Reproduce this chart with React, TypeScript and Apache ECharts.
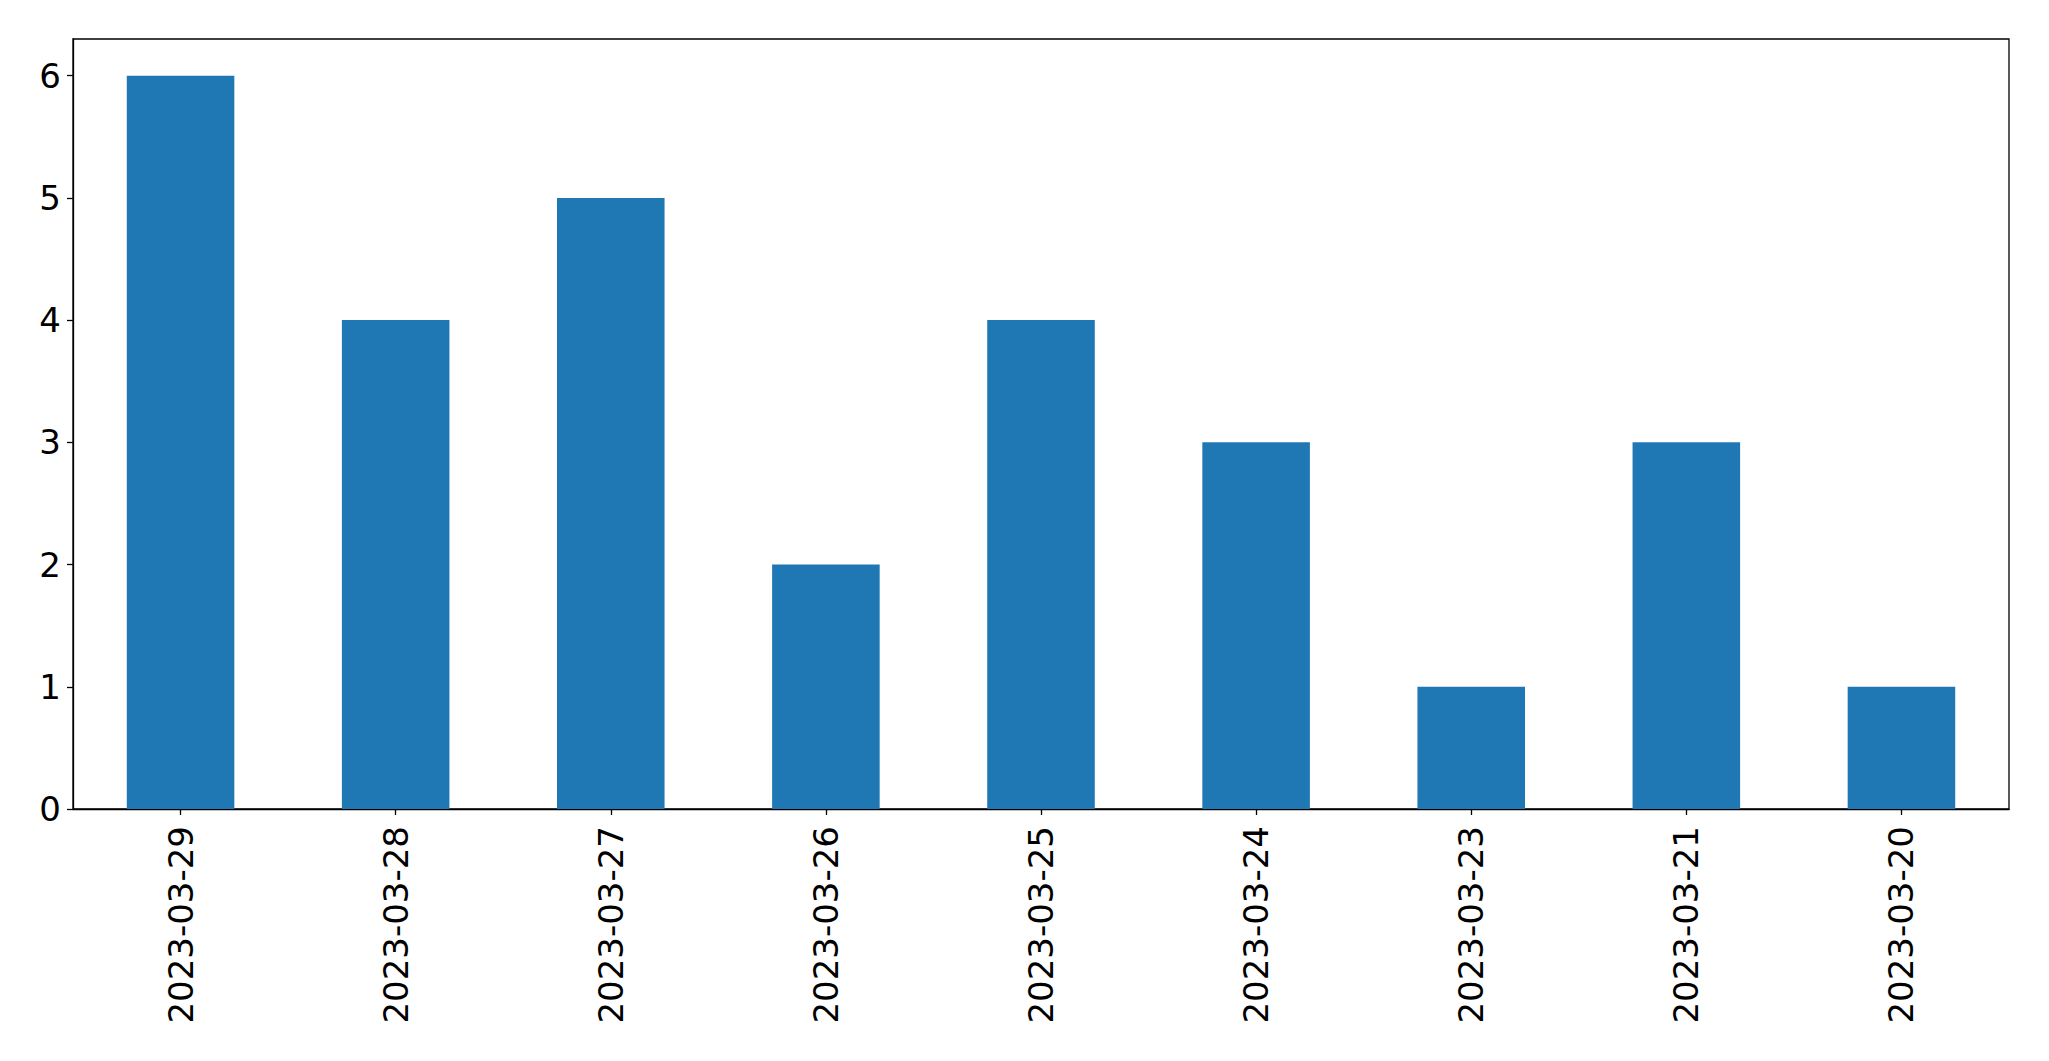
import React, { useEffect, useRef } from "react";
import * as echarts from "echarts";

const categories = [
  "2023-03-29",
  "2023-03-28",
  "2023-03-27",
  "2023-03-26",
  "2023-03-25",
  "2023-03-24",
  "2023-03-23",
  "2023-03-21",
  "2023-03-20",
];
const values = [6, 4, 5, 2, 4, 3, 1, 3, 1];
const yTicks = [0, 1, 2, 3, 4, 5, 6];

export default function App() {
  const ref = useRef<HTMLDivElement>(null);
  useEffect(() => {
    if (!ref.current) return;
    const chart = echarts.init(ref.current, undefined, { renderer: "svg" });
    const font = "DejaVu Sans";
    chart.setOption({
      animation: false,
      backgroundColor: "#ffffff",
      grid: {
        left: 73,
        right: 40,
        top: 39,
        bottom: 252,
        show: true,
        borderColor: "#000000",
        borderWidth: 1.3,
        backgroundColor: "transparent",
      },
      xAxis: {
        type: "category",
        data: categories,
        boundaryGap: true,
        axisLine: { show: true, lineStyle: { color: "#000000", width: 1.3 } },
        axisTick: {
          show: true,
          alignWithLabel: true,
          length: 6,
          lineStyle: { color: "#000000", width: 1.3 },
        },
        axisLabel: {
          rotate: 90,
          margin: 17,
          fontSize: 34,
          fontFamily: font,
          color: "#000000",
          interval: 0,
        },
        splitLine: { show: false },
      },
      yAxis: {
        type: "value",
        min: 0,
        max: 6.3,
        interval: 1,
        axisLine: { show: true, lineStyle: { color: "#000000", width: 1.3 } },
        axisTick: {
          show: true,
          length: 6,
          customValues: yTicks,
          lineStyle: { color: "#000000", width: 1.3 },
        },
        axisLabel: {
          margin: 12,
          fontSize: 34,
          fontFamily: font,
          color: "#000000",
          customValues: yTicks,
        },
        splitLine: { show: false },
      },
      series: [
        {
          type: "bar",
          data: values,
          barWidth: "50%",
          itemStyle: { color: "#1f77b4" },
        },
      ],
    });
    return () => chart.dispose();
  }, []);
  return (
    <div
      ref={ref}
      style={{ position: "fixed", left: 0, top: 0, width: 2049, height: 1061 }}
    />
  );
}
